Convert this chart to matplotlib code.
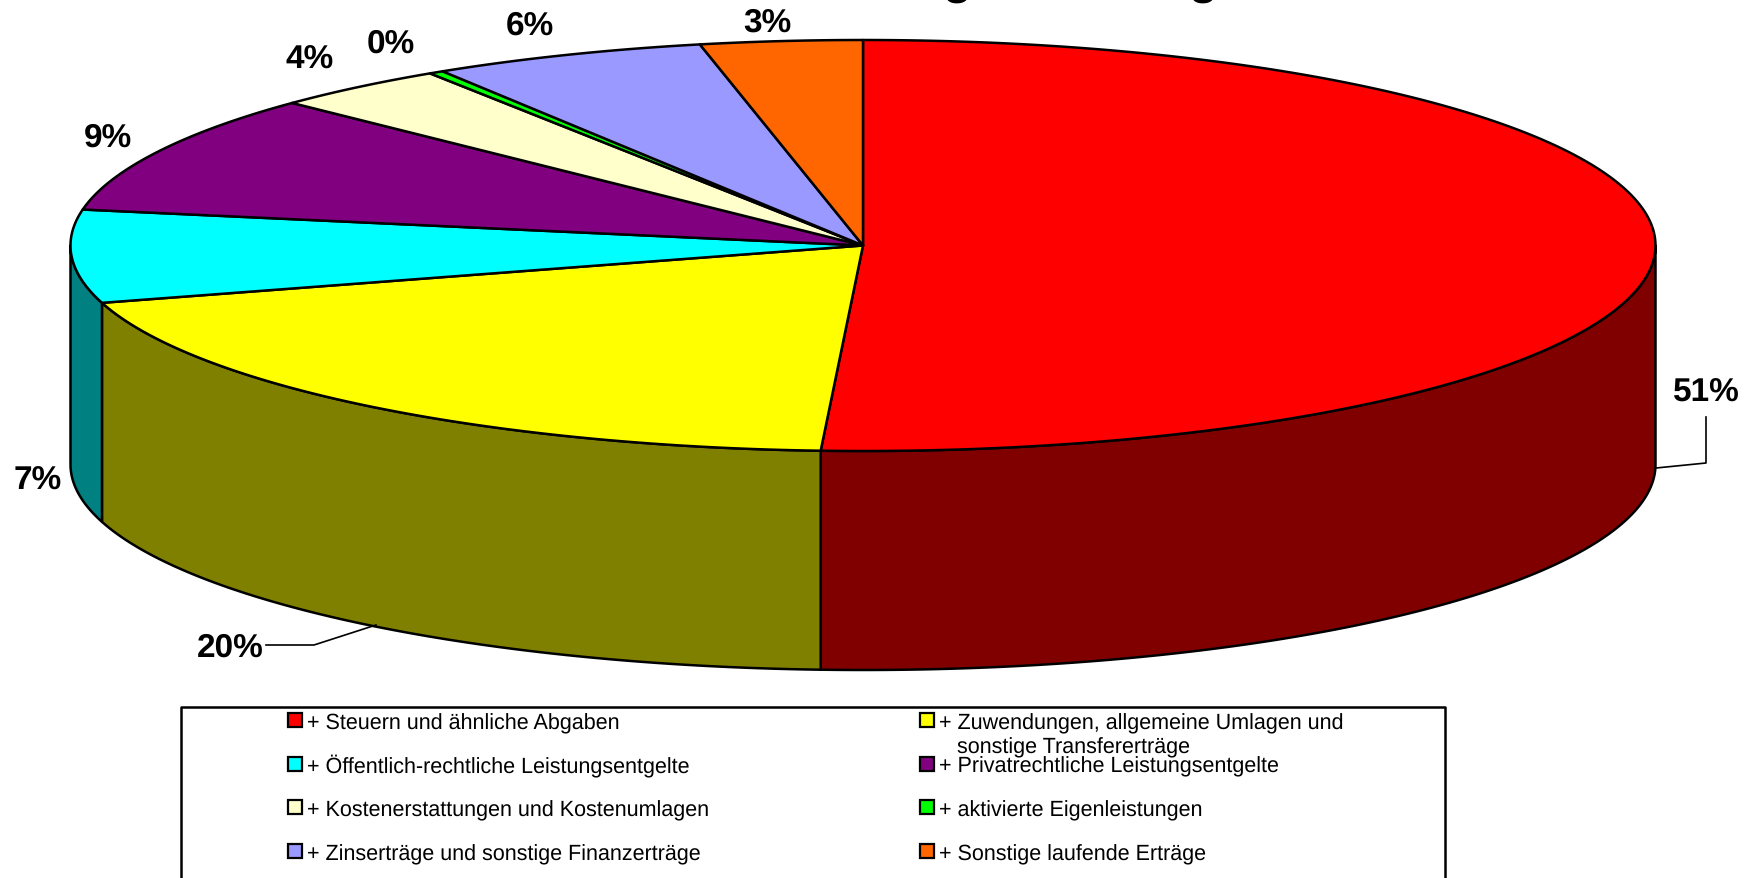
import numpy as np
import matplotlib
matplotlib.use('Agg')
import matplotlib.pyplot as plt

plt.rcParams['font.family'] = ['Liberation Sans', 'DejaVu Sans']
plt.rcParams['text.hinting'] = 'none'

# share of each position in percent, clockwise from 12 o'clock
categories = ['+ Steuern und ähnliche Abgaben',
              '+ Zuwendungen, allgemeine Umlagen und\n   sonstige Transfererträge',
              '+ Öffentlich-rechtliche Leistungsentgelte',
              '+ Privatrechtliche Leistungsentgelte',
              '+ Kostenerstattungen und Kostenumlagen',
              '+ aktivierte Eigenleistungen',
              '+ Zinserträge und sonstige Finanzerträge',
              '+ Sonstige laufende Erträge']
shares = [50.85, 19.65, 7.3, 9.4, 3.6, 0.3, 5.6, 3.3]
top_colors = ['#ff0000', '#ffff00', '#00ffff', '#800080',
              '#ffffcc', '#00ff00', '#9999ff', '#ff6600']
side_colors = ['#800000', '#808000', '#008080', '#400040',
               '#808066', '#008000', '#4d4d80', '#803300']

W, H = 1751, 879
cx, cy = 863, 246.5
rx, ry = 792.5, 205.5
depth = 219
lw = 1.8


def ell(deg):
    # clockwise angle from the top of the ellipse to pixel position
    a = np.radians(deg)
    return cx + rx * np.sin(a), cy - ry * np.cos(a)


fig = plt.figure(figsize=(W / 100, H / 100), dpi=100)
ax = fig.add_axes([0, 0, 1, 1])
ax.set_xlim(0, W)
ax.set_ylim(H, 0)
ax.axis('off')

edges = np.cumsum([0] + shares) / 100 * 360

# outer wall, only the front half of the rim can be seen
for i in range(len(shares)):
    start = max(edges[i], 90)
    end = min(edges[i + 1], 270)
    if end <= start:
        continue
    t = np.linspace(start, end, 200)
    x, y = ell(t)
    px = np.concatenate([x, x[::-1]])
    py = np.concatenate([y, y[::-1] + depth])
    ax.fill(px, py, facecolor=side_colors[i], edgecolor='black', lw=lw, joinstyle='round')

# top face
for i in range(len(shares)):
    t = np.linspace(edges[i], edges[i + 1], 300)
    x, y = ell(t)
    ax.fill(np.r_[cx, x], np.r_[cy, y], facecolor=top_colors[i], edgecolor='black',
            lw=lw, joinstyle='round')

# leader lines for the two labels placed away from the rim
ax.plot([1656, 1706, 1706], [469, 464, 418], color='black', lw=1.2)
ax.plot([266, 314, 376], [646, 646, 626], color='black', lw=1.2)

labels = ['51%', '20%', '7%', '9%', '4%', '0%', '6%', '3%']
label_x = [1706, 230, 38, 108, 310, 391, 530, 767]
label_y = [393, 648, 481, 138, 60, 44, 26, 23]
for s, lx, ly in zip(labels, label_x, label_y):
    ax.text(lx, ly, s, ha='center', va='center', fontsize=24, fontweight='bold', color='black')

# clipped heading, only the descenders stay inside the figure
ax.text(889, -7, 'Zusammensetzung der Erträge', ha='center', va='baseline',
        fontsize=35, fontweight='bold', color='black', clip_on=True)

# legend frame runs past the lower edge of the figure
ax.plot([181, 181, 1445, 1445], [H + 5, 708, 708, H + 5], color='black', lw=1.8, clip_on=True)

col_x = [288, 920]
row_y = [721, 765, 808, 852]
base_y = [729, 772.5, 816, 860]
for i, name in enumerate(categories):
    sx = col_x[i % 2]
    sy = row_y[i // 2]
    by = base_y[i // 2]
    ax.add_patch(plt.Rectangle((sx, sy - 7), 14, 14, facecolor=top_colors[i],
                               edgecolor='black', lw=1.6))
    if '\n' in name:
        first, second = name.split('\n')
        ax.text(sx + 19, by, first, va='baseline', ha='left', fontsize=15.5, color='black')
        ax.text(sx + 37, 753, second.strip(), va='baseline', ha='left', fontsize=15.5, color='black')
    else:
        ax.text(sx + 19, by, name, va='baseline', ha='left', fontsize=15.5, color='black')

fig.savefig('out.png', dpi=100, facecolor='white')
